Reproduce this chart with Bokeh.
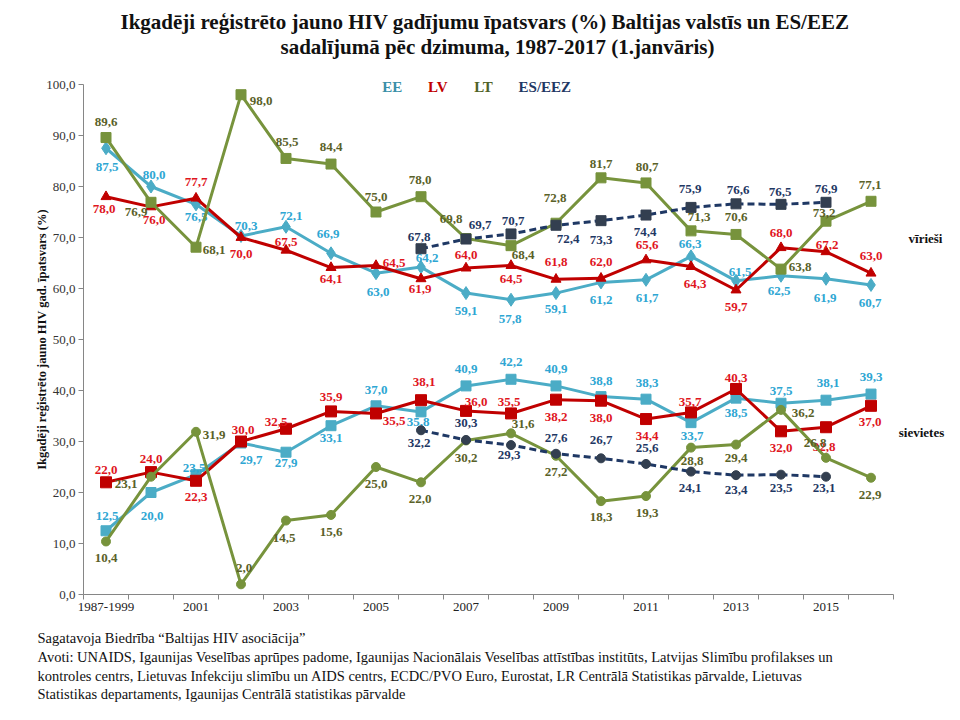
from bokeh.plotting import figure
from bokeh.models import ColumnDataSource, FixedTicker, Label, Title, Range1d
from bokeh.core.properties import value
from bokeh.embed import file_html
from bokeh.resources import INLINE

# ---------------- data ----------------
categories = ["1987-1999", "2000", "2001", "2002", "2003", "2004", "2005", "2006", "2007",
              "2008", "2009", "2010", "2011", "2012", "2013", "2014", "2015", "2016"]
tick_labels = ["1987-1999", "2001", "2003", "2005", "2007", "2009", "2011", "2013", "2015"]
es_categories = ["2006", "2007", "2008", "2009", "2010", "2011", "2012", "2013", "2014", "2015"]

# vīrieši (male share, %)
male_EE = [87.5, 80.0, 76.5, 70.3, 72.1, 66.9, 63.0, 64.2, 59.1, 57.8, 59.1, 61.2, 61.7, 66.3, 61.5, 62.5, 61.9, 60.7]
male_LV = [78.0, 76.0, 77.7, 70.0, 67.5, 64.1, 64.5, 61.9, 64.0, 64.5, 61.8, 62.0, 65.6, 64.3, 59.7, 68.0, 67.2, 63.0]
male_LT = [89.6, 76.9, 68.1, 98.0, 85.5, 84.4, 75.0, 78.0, 69.8, 68.4, 72.8, 81.7, 80.7, 71.3, 70.6, 63.8, 73.2, 77.1]
male_ES = [67.8, 69.7, 70.7, 72.4, 73.3, 74.4, 75.9, 76.6, 76.5, 76.9]

# sievietes (female share, %)
female_EE = [12.5, 20.0, 23.5, 29.7, 27.9, 33.1, 37.0, 35.8, 40.9, 42.2, 40.9, 38.8, 38.3, 33.7, 38.5, 37.5, 38.1, 39.3]
female_LV = [22.0, 24.0, 22.3, 30.0, 32.5, 35.9, 35.5, 38.1, 36.0, 35.5, 38.2, 38.0, 34.4, 35.7, 40.3, 32.0, 32.8, 37.0]
female_LT = [10.4, 23.1, 31.9, 2.0, 14.5, 15.6, 25.0, 22.0, 30.2, 31.6, 27.2, 18.3, 19.3, 28.8, 29.4, 36.2, 26.8, 22.9]
female_ES = [32.2, 30.3, 29.3, 27.6, 26.7, 25.6, 24.1, 23.4, 23.5, 23.1]

# label placement (screen px: dx right, dy down) -- styling only
off_male_EE = [(1, 19), (3, -12), (0, 13), (5, -10), (5, -11), (-3, -19), (2, 19), (6, -9), (0, 18),
               (-1, 19), (0, 16), (0, 18), (1, 18), (-1, -12), (4, -9), (-2, 15), (-1, 19), (-1, 18)]
off_male_LV = [(-2, 12), (3, 13), (0, -16), (0, 16), (0, -8), (0, 11), (18, -3), (-1, 10), (0, -13),
               (0, 13), (0, -17), (0, -16), (1, -15), (4, 17), (0, 17), (0, -15), (1, -7), (0, -17)]
off_male_LT = [(0, -16), (-15, 10), (18, 3), (20, 6), (1, -16), (0, -17), (0, -15), (-1, -17), (-15, -20),
               (12, 9), (-1, -25), (0, -14), (1, -16), (8, -14), (0, -17), (19, -2), (-2, -8), (-1, -16)]
off_male_ES = [(-2, -12), (14, -14), (2, -13), (12, 14), (0, 19), (-1, 17), (-1, -18), (2, -14), (-1, -12), (0, -13)]
off_female_EE = [(1, -15), (1, 23), (-2, -7), (10, 17), (0, 11), (0, 12), (0, -16), (-3, 10), (0, -17),
                 (0, -17), (0, -17), (0, -16), (1, -16), (1, 13), (0, 15), (0, -12), (2, -17), (0, -17)]
off_female_LV = [(0, -12), (0, -13), (0, 16), (2, -12), (-10, -7), (0, -14), (18, 8), (3, -18), (10, -9),
                 (-2, -11), (0, 17), (0, 17), (1, 17), (-1, -10), (0, -11), (0, 17), (-2, 20), (-1, 16)]
off_female_LT = [(0, 17), (-25, 7), (18, 3), (3, -16), (-2, 17), (0, 17), (0, 17), (-1, 17), (0, 18),
                 (12, -9), (0, 16), (0, 16), (1, 17), (1, 13), (0, 13), (22, 3), (-11, -15), (-1, 17)]
off_female_ES = [(-2, 13), (0, -17), (-2, 10), (0, -16), (0, -18), (1, -16), (-1, 16), (0, 15), (0, 13), (-2, 11)]

# ---------------- styles ----------------
C_EE, C_EE_T = "#4BACC6", "#2EA6D3"
C_LV, C_LV_T = "#C00000", "#E0161E"
C_LT, C_LT_T = "#77933C", "#5A6128"
C_ES, C_ES_M, C_ES_T = "#1F3864", "#333F50", "#1F3864"
SERIF = "Liberation Serif"

W, H = 952, 704
TOP = 36                    # frame top (title panel above it); frame spans the rest of the canvas
ZERO_X = 83                 # canvas column where the first category starts (y axis)
ZERO_Y = 594                # canvas row of the value 0 (x axis)
CAT_W = 45.0                # px per category
PX_PER_UNIT = 5.1           # px per percentage point
n = len(categories)
x_start = -ZERO_X / CAT_W
x_end = (W - ZERO_X) / CAT_W
y_start = -(H - ZERO_Y) / PX_PER_UNIT
y_end = (ZERO_Y - TOP) / PX_PER_UNIT

p = figure(width=W, height=H, x_range=Range1d(x_start, x_end), y_range=Range1d(y_start, y_end),
           output_backend="svg", toolbar_location=None,
           min_border_left=0, min_border_right=0, min_border_top=TOP, min_border_bottom=0)
p.outline_line_color = None
p.xgrid.visible = False
p.ygrid.visible = False
p.background_fill_color = "white"

def dx_(px):   # canvas pixel -> data x (annotation placement)
    return (px - ZERO_X) / CAT_W
def dy_(py):   # canvas pixel -> data y
    return (ZERO_Y - py) / PX_PER_UNIT

cat_pos = {c: i + 0.5 for i, c in enumerate(categories)}

# ---- axes ----
xa = p.xaxis[0]
xa.fixed_location = 0
xa.bounds = (0, n)
xa.ticker = FixedTicker(ticks=[cat_pos[c] for c in tick_labels], minor_ticks=list(range(n + 1)))
xa.major_label_overrides = {cat_pos[c]: c for c in tick_labels}
xa.major_tick_out = 0
xa.major_tick_in = 0
xa.minor_tick_out = 5
xa.minor_tick_in = 0
xa.minor_tick_line_color = "#868686"
xa.axis_line_color = "#868686"
xa.major_label_text_font = SERIF
xa.major_label_text_font_size = "13px"
xa.major_label_text_color = "#222222"
xa.major_label_standoff = 3

ya = p.yaxis[0]
ya.fixed_location = 0
ya.bounds = (0, 100)
ya.ticker = FixedTicker(ticks=list(range(0, 101, 10)), minor_ticks=[])
ya.major_label_overrides = {v: f"{v:.1f}".replace(".", ",") for v in range(0, 101, 10)}
ya.major_tick_out = 5
ya.major_tick_in = 0
ya.major_tick_line_color = "#868686"
ya.axis_line_color = "#868686"
ya.major_label_text_font = SERIF
ya.major_label_text_font_size = "13px"
ya.major_label_text_color = "#333333"
ya.major_label_standoff = 3
ya.axis_label = "Ikgadēji reģistrēto jauno HIV gad. īpatsvars (%)"
ya.axis_label_text_font = SERIF
ya.axis_label_text_font_size = "12.5px"
ya.axis_label_text_font_style = "bold"
ya.axis_label_text_color = "#111111"
ya.axis_label_standoff = -6

# ---- title ----
p.add_layout(Title(text="Ikgadēji reģistrēto jauno HIV gadījumu īpatsvars (%) Baltijas valstīs un ES/EEZ",
                   align="left", offset=120, standoff=6, text_font=SERIF,
                   text_font_size="21px", text_font_style="bold", text_color="#111111"), "above")
p.add_layout(Label(x=dx_(497), y=dy_(46), text="sadalījumā pēc dzimuma, 1987-2017 (1.janvāris)",
                   text_align="center", text_baseline="middle", text_font=SERIF,
                   text_font_size="21px", text_font_style="bold", text_color="#111111"))

# ---- series ----
def series(vals, cats, offs, line_color, marker, msize, mcolor, tcolor, dash="solid"):
    src = ColumnDataSource(dict(
        x=[cat_pos[c] for c in cats], y=vals,
        t=[f"{v:.1f}".replace(".", ",") for v in vals],
        ox=[o[0] for o in offs], oy=[o[1] for o in offs]))
    p.line("x", "y", source=src, line_color=line_color, line_width=3, line_dash=dash)
    p.scatter("x", "y", source=src, marker=marker, size=msize, fill_color=mcolor, line_color=mcolor)
    p.text("x", "y", text="t", source=src, x_offset="ox", y_offset="oy",
           text_align="center", text_baseline="middle", text_color=tcolor,
           text_font=value(SERIF), text_font_style="bold", text_font_size=value("13px"))

series(male_EE, categories, off_male_EE, C_EE, "diamond", 13, C_EE, C_EE_T)
series(male_LV, categories, off_male_LV, C_LV, "triangle", 10, C_LV, C_LV_T)
series(male_LT, categories, off_male_LT, C_LT, "square", 10, C_LT, C_LT_T)
series(male_ES, es_categories, off_male_ES, C_ES, "square", 10, C_ES_M, C_ES_T, dash="7 4")

series(female_EE, categories, off_female_EE, C_EE, "square", 10, C_EE, C_EE_T)
series(female_LV, categories, off_female_LV, C_LV, "square", 11, C_LV, C_LV_T)
series(female_LT, categories, off_female_LT, C_LT, "circle", 9, C_LT, C_LT_T)
series(female_ES, es_categories, off_female_ES, C_ES, "circle", 9, C_ES_M, C_ES_T, dash="7 4")

# ---- legend (text only) ----
for txt, col, px in [("EE", "#3A8FA8", 391.7), ("LV", "#C00000", 437.3),
                     ("LT", "#4F6228", 483.0), ("ES/EEZ", "#1F3864", 544.3)]:
    p.add_layout(Label(x=dx_(px), y=dy_(86.7), text=txt, text_align="center", text_baseline="middle",
                       text_font=SERIF, text_font_size="15px", text_font_style="bold", text_color=col))

# ---- group labels ----
p.add_layout(Label(x=dx_(925), y=dy_(238), text="vīrieši", text_align="center", text_baseline="middle",
                   text_font=SERIF, text_font_size="13px", text_font_style="bold", text_color="#111111"))
p.add_layout(Label(x=dx_(921), y=dy_(432), text="sievietes", text_align="center", text_baseline="middle",
                   text_font=SERIF, text_font_size="13px", text_font_style="bold", text_color="#111111"))

# ---- footer ----
footer = [
    "Sagatavoja Biedrība “Baltijas HIV asociācija”",
    "Avoti: UNAIDS, Igaunijas Veselības aprūpes padome, Igaunijas Nacionālais Veselības attīstības institūts, Latvijas Slimību profilakses un",
    "kontroles centrs, Lietuvas Infekciju slimību un AIDS centrs, ECDC/PVO Euro, Eurostat, LR Centrālā Statistikas pārvalde, Lietuvas",
    "Statistikas departaments, Igaunijas Centrālā statistikas pārvalde",
]
footer_rows = [637, 656, 675, 693]
for row, txt in zip(footer_rows, footer):
    p.add_layout(Label(x=dx_(37), y=dy_(row), text=txt, text_align="left", text_baseline="middle",
                       text_font=SERIF, text_font_size="14.5px", text_color="#111111"))

open("out.html", "w").write(file_html(p, INLINE))
